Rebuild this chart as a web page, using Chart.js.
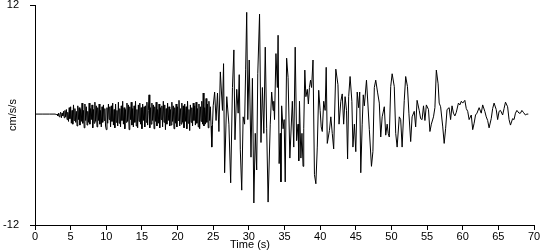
<!DOCTYPE html>
<html>
<head>
<meta charset="utf-8">
<script src="https://cdn.jsdelivr.net/npm/chart.js@4.4.1/dist/chart.umd.min.js"></script>
<style>
  html, body { margin: 0; padding: 0; background: #fff; }
  #wrap { width: 550px; height: 250px; }
</style>
</head>
<body>
<div id="wrap"><canvas id="chart" width="550" height="250"></canvas></div>
<script>
// time of each sample (s)
const timeSec = [
  0, 1, 2, 2.9,
  3, 3.1, 3.2, 3.3, 3.4, 3.5, 3.6, 3.7, 3.8, 3.9,
  4, 4.1, 4.2, 4.3, 4.4, 4.5, 4.6, 4.7, 4.8, 4.9,
  5, 5.1, 5.2, 5.3, 5.4, 5.5, 5.6, 5.7, 5.8, 5.9,
  6, 6.1, 6.2, 6.3, 6.4, 6.5, 6.6, 6.7, 6.8, 6.9,
  7, 7.1, 7.2, 7.3, 7.4, 7.5, 7.6, 7.7, 7.8, 7.9,
  8, 8.1, 8.2, 8.3, 8.4, 8.5, 8.6, 8.7, 8.8, 8.9,
  9, 9.1, 9.2, 9.3, 9.4, 9.5, 9.6, 9.7, 9.8, 9.9,
  10, 10.1, 10.2, 10.3, 10.4, 10.5, 10.6, 10.7, 10.8, 10.9,
  11, 11.1, 11.2, 11.3, 11.4, 11.5, 11.6, 11.7, 11.8, 11.9,
  12, 12.1, 12.2, 12.3, 12.4, 12.5, 12.6, 12.7, 12.8, 12.9,
  13, 13.1, 13.2, 13.3, 13.4, 13.5, 13.6, 13.7, 13.8, 13.9,
  14, 14.1, 14.2, 14.3, 14.4, 14.5, 14.6, 14.7, 14.8, 14.9,
  15, 15.1, 15.2, 15.3, 15.4, 15.5, 15.6, 15.7, 15.8, 15.9,
  16, 16.1, 16.2, 16.3, 16.4, 16.5, 16.6, 16.7, 16.8, 16.9,
  17, 17.1, 17.2, 17.3, 17.4, 17.5, 17.6, 17.7, 17.8, 17.9,
  18, 18.1, 18.2, 18.3, 18.4, 18.5, 18.6, 18.7, 18.8, 18.9,
  19, 19.1, 19.2, 19.3, 19.4, 19.5, 19.6, 19.7, 19.8, 19.9,
  20, 20.1, 20.2, 20.3, 20.4, 20.5, 20.6, 20.7, 20.8, 20.9,
  21, 21.1, 21.2, 21.3, 21.4, 21.5, 21.6, 21.7, 21.8, 21.9,
  22, 22.1, 22.2, 22.3, 22.4, 22.5, 22.6, 22.7, 22.8, 22.9,
  23, 23.1, 23.2, 23.3, 23.4, 23.5, 23.6, 23.7, 23.8, 23.9,
  24, 24.1, 24.2, 24.3, 24.4, 24.5, 24.6, 24.7, 24.8, 24.9,
  25, 25.2, 25.4, 25.6, 25.8, 26, 26.3, 26.45, 26.6, 26.9,
  27.2, 27.45, 27.7, 27.9, 28.05, 28.3, 28.5, 28.65, 28.8, 29,
  29.2, 29.4, 29.55, 29.7, 29.85, 30.05, 30.3, 30.5, 30.7, 30.9,
  31.1, 31.25, 31.5, 31.7, 31.9, 32.1, 32.3, 32.5, 32.7, 33,
  33.2, 33.4, 33.5, 33.6, 33.8, 34, 34.1, 34.25, 34.4, 34.5,
  34.6, 34.8, 34.95, 35.1, 35.3, 35.5, 35.75, 36.1, 36.3, 36.5,
  36.7, 36.9, 37, 37.1, 37.3, 37.45, 37.6, 37.7, 37.85, 38,
  38.2, 38.35, 38.5, 38.65, 38.8, 39, 39.2, 39.4, 39.6, 39.8,
  40, 40.15, 40.3, 40.5, 40.7, 40.85, 41, 41.3, 41.5, 41.7,
  41.9, 42.2, 42.5, 42.65, 42.9, 43.1, 43.3, 43.5, 43.7, 43.85,
  44, 44.2, 44.45, 44.6, 44.8, 45, 45.2, 45.4, 45.55, 45.7,
  45.9, 46.05, 46.2, 46.35, 46.5, 46.7, 46.9, 47.2, 47.4, 47.6,
  47.8, 48.05, 48.3, 48.5, 48.7, 49, 49.2, 49.4, 49.55, 49.7,
  49.9, 50.1, 50.4, 50.6, 50.8, 51.1, 51.3, 51.5, 51.8, 52,
  52.25, 52.45, 52.7, 52.9, 53.2, 53.4, 53.6, 53.9, 54.1, 54.3,
  54.5, 54.7, 54.9, 55.2, 55.4, 55.6, 55.9, 56.1, 56.3, 56.55,
  56.7, 56.9, 57.2, 57.4, 57.6, 57.8, 58.1, 58.3, 58.5, 58.7,
  58.9, 59.1, 59.4, 59.6, 59.8, 60, 60.3, 60.5, 60.7, 60.9,
  61.2, 61.4, 61.6, 61.8, 62, 62.3, 62.6, 62.8, 63.1, 63.3,
  63.5, 63.7, 64, 64.2, 64.4, 64.7, 64.9, 65.1, 65.3, 65.6,
  65.8, 66, 66.3, 66.5, 66.7, 67, 67.2, 67.4, 67.6, 67.9,
  68.1, 68.3, 68.5, 68.8, 69, 69.2, 69.9
];

// ground acceleration (cm/s/s)
const accel = [
  0.1, 0.1, 0.1, 0.1,
  0.0, 0.1, -0.1, 0.2, -0.2, 0.1, 0.3, -0.3, 0.2, -0.1,
  0.4, -0.3, 0.5, -0.2, 0.6, -0.5, 0.3, -0.7, 0.8, -0.4,
  0.9, -0.9, 0.5, -1.0, 1.1, -0.6, 0.7, -0.8, 0.4, -1.2,
  1.0, -0.5, 0.8, -1.1, 0.6, -0.7, 1.3, -0.9, 0.5, -1.4,
  1.2, -0.6, 0.9, -1.1, 0.4, -0.8, 1.3, -1.0, 0.7, -0.5,
  1.1, -1.4, 0.6, -0.9, 1.4, -0.7, 1.0, -1.3, 0.8, -0.6,
  1.2, -1.0, 0.5, -1.3, 0.9, -0.8, 1.1, -0.6, 0.7, -1.2,
  -1.6, 0.8, -0.9, 1.2, -0.5, 0.9, -1.3, 1.0, -0.7, 1.3,
  -1.1, 0.6, -1.4, 1.2, -0.8, 0.5, -1.2, 1.4, -0.9, 0.7,
  -1.3, 1.0, -0.6, 1.5, -1.0, 0.8, -1.5, 0.6, -0.8, 1.3,
  -0.7, 1.1, -1.6, 0.9, -0.5, 1.4, -1.1, 0.7, -1.3, 1.0,
  -0.8, 1.5, -1.2, 0.6, -1.4, 1.1, -0.7, 1.3, -1.0, 0.8,
  -1.5, 1.2, -0.6, 0.9, -1.3, 1.0, -0.8, 1.4, -1.1, 0.5,
  2.2, -1.4, 0.8, -1.0, 1.3, -0.6, 1.1, -1.5, 0.9, -0.7,
  1.4, -1.2, 0.6, -0.9, 1.2, -1.4, 0.8, -0.5, 1.0, -1.3,
  1.5, -0.8, 1.1, -1.6, 0.7, -1.0, 1.3, -0.6, 0.9, -1.2,
  0.6, -1.1, 1.4, -0.7, 1.0, -1.5, 0.8, -0.9, 1.2, -1.3,
  0.9, -0.6, 1.6, -1.2, 0.7, -1.0, 1.3, -0.8, 1.0, -1.4,
  1.2, -0.7, 0.9, -1.5, 1.5, -0.9, 0.6, -1.7, 1.1, -0.8,
  0.8, -1.2, 1.3, -0.6, 1.0, -1.1, 1.4, -0.9, 0.7, -1.3,
  1.2, -1.5, 0.9, -0.7, 1.5, -1.0, 2.4, -1.2, 0.8, -1.0,
  1.8, -0.8, 1.2, -1.4, 1.5, -0.6, 0.9, -1.2, -3.5, -1.0,
  1.0, 2.5, -0.6, 2.4, -1.8, 4.7, 0.5, 5.6, -6.3, 2.0,
  -1.0, -7.4, 3.0, 7.1, -2.7, 2.8, 0.2, 4.4, -3.8, -8.2,
  -0.2, -1.0, 5.0, 11.2, -0.5, 6.0, -4.6, 4.0, -9.6, -2.0,
  -6.0, 4.5, 11.0, -3.0, 3.0, -2.0, 7.4, -1.5, -9.5, -1.0,
  2.5, 0.5, 1.5, -0.5, 6.7, 3.0, 8.7, -5.3, -2.0, -7.3,
  1.0, -1.5, -0.5, -7.3, 6.2, 4.1, -4.7, 1.5, -3.5, 7.4,
  -2.8, -1.0, -5.0, 1.5, -4.7, -2.0, -5.6, -1.5, 4.9, 2.0,
  2.8, 1.2, 3.0, 3.8, 3.0, 6.0, -6.5, -7.5, -3.5, 2.7,
  0.5, -1.3, -1.8, 1.5, 0.5, 5.2, -3.1, -1.7, -0.2, -2.0,
  -3.7, 5.0, 3.3, -1.0, 1.5, 2.3, -1.0, 2.0, 0.5, -4.8,
  2.0, 4.2, 1.5, -3.5, -1.0, -4.0, 2.5, 0.8, 2.5, -6.3,
  -1.0, 2.2, 1.0, 2.4, 3.8, 1.2, -1.6, -5.6, -4.0, 3.0,
  3.8, 2.5, 1.3, -2.4, -0.2, 0.9, -2.2, -1.0, -2.0, -2.4,
  3.1, 4.5, 3.1, -2.0, -3.5, -0.2, -0.5, -3.5, 1.6, 4.2,
  3.1, 0.2, -2.9, -0.2, 0.4, -1.3, 1.6, 0.5, -0.4, -0.5,
  1.0, -0.6, 1.1, 0.6, -1.8, -1.0, -0.2, 0.8, 4.9, 3.4,
  1.3, 0.9, -1.3, -3.1, -1.5, 0.6, 0.8, -0.5, 1.0, 0.2,
  -0.1, 0.3, 1.3, 1.1, 1.5, 1.3, 1.6, 0.7, 0.4, -0.5,
  0.0, -1.6, -0.9, 0.0, 0.2, 0.8, 0.2, 1.1, 0.4, -0.2,
  -0.6, -1.4, -0.4, 0.7, 1.3, 0.6, -0.5, 0.4, 0.5, 0.0,
  0.7, 1.4, 0.9, -0.5, -1.1, -0.4, -0.5, 0.2, 0.5, 0.2,
  0.2, 0.5, 0.3, 0.0, 0.1, 0.1
];

const xTickValues = [0, 5, 10, 15, 20, 25, 30, 35, 40, 45, 50, 55, 60, 65, 70];
const yTickValues = [-12, 12];

const points = timeSec.map((t, i) => ({ x: t, y: accel[i] }));

const axisFont = { family: "Arial, 'Liberation Sans', sans-serif", size: 11 };

// x title sits left of the plot centre in the reference
const xTitlePlugin = {
  id: "xTitle",
  afterDraw(chart) {
    const c = chart.ctx;
    c.save();
    c.fillStyle = "#000";
    c.font = "11px Arial, 'Liberation Sans', sans-serif";
    c.textAlign = "center";
    c.textBaseline = "middle";
    c.fillText("Time (s)", 250, 245);
    c.restore();
  },
};

const ctx = document.getElementById("chart").getContext("2d");
const chart = new Chart(ctx, {
  type: "line",
  data: {
    datasets: [
      {
        data: points,
        borderColor: "#000",
        borderWidth: 1,
        pointRadius: 0,
        tension: 0,
        fill: false,
      },
    ],
  },
  options: {
    responsive: false,
    animation: false,
    devicePixelRatio: 1,
    layout: { padding: { top: 5, right: 16, bottom: 0, left: 0 } },
    plugins: {
      legend: { display: false },
      tooltip: { enabled: false },
    },
    scales: {
      x: {
        type: "linear",
        min: 0,
        max: 70,
        afterBuildTicks: (s) => {
          s.ticks = xTickValues.map((v) => ({ value: v }));
        },
        afterFit: (s) => {
          s.height = 25;
        },
        grid: { drawOnChartArea: false, drawTicks: true, tickLength: 5, color: "#000" },
        border: { color: "#000" },
        ticks: { color: "#000", font: axisFont, padding: 0, maxRotation: 0, autoSkip: false },
      },
      y: {
        type: "linear",
        min: -12,
        max: 12,
        afterBuildTicks: (s) => {
          s.ticks = yTickValues.map((v) => ({ value: v }));
        },
        afterFit: (s) => {
          s.width = 35;
          s.paddingTop = 0;
          s.paddingBottom = 0;
        },
        grid: { drawOnChartArea: false, drawTicks: true, tickLength: 5, color: "#000" },
        border: { color: "#000" },
        ticks: { color: "#000", font: axisFont, padding: 11 },
        title: {
          display: true,
          text: "cm/s/s",
          color: "#000",
          font: axisFont,
          padding: { top: 6, bottom: 0 },
        },
      },
    },
  },
  plugins: [xTitlePlugin],
});
</script>
</body>
</html>
